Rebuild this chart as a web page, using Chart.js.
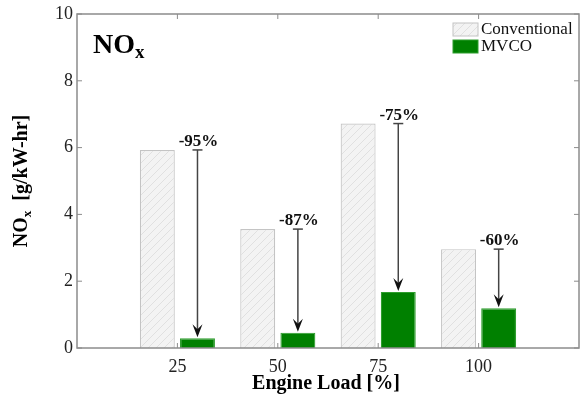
<!DOCTYPE html>
<html>
<head>
<meta charset="utf-8">
<script src="https://cdn.jsdelivr.net/npm/chart.js@4"></script>
<style>
  html, body { margin: 0; padding: 0; background: #fff; }
  #chart { display: block; }
</style>
</head>
<body>
<canvas id="chart" width="580" height="402"></canvas>
<script>
// --- Data ---
const loads = ['25', '50', '75', '100'];
const conventional = [5.93, 3.56, 6.72, 2.96];
const mvco = [0.29, 0.46, 1.68, 1.19];
const reductions = ['-95%', '-87%', '-75%', '-60%'];
const seriesNames = ['Conventional', 'MVCO'];
const yMin = 0, yMax = 10, yStep = 2;

const SERIF = '"Liberation Serif", "Times New Roman", serif';

// hatched fill for the conventional bars
function makeHatch() {
    const c = document.createElement('canvas');
    c.width = 8; c.height = 8;
    const g = c.getContext('2d');
    g.fillStyle = '#f3f3f3';
    g.fillRect(0, 0, 8, 8);
    g.strokeStyle = '#dadada';
    g.lineWidth = 0.8;
    g.beginPath();
    g.moveTo(0, 8); g.lineTo(8, 0);
    g.moveTo(-1, 1); g.lineTo(1, -1);
    g.moveTo(7, 9); g.lineTo(9, 7);
    g.stroke();
    return g.createPattern(c, 'repeat');
}
const hatch = makeHatch();

// pad the category axis with an empty slot on each side
const labels = [''].concat(loads, ['']);
const pad = arr => [null].concat(arr, [null]);

function line(ctx, x1, y1, x2, y2) {
    ctx.beginPath();
    ctx.moveTo(x1, y1);
    ctx.lineTo(x2, y2);
    ctx.stroke();
}

// frame, inward ticks, arrows, labels, legend and titles
const overlay = {
    id: 'overlay',
    afterDatasetsDraw(chart) {
        const { ctx, chartArea: a, scales: { x, y } } = chart;
        ctx.save();

        // frame
        ctx.strokeStyle = '#8c8c8c';
        ctx.lineWidth = 1.5;
        ctx.strokeRect(a.left, a.top, a.right - a.left, a.bottom - a.top);

        // inward tick marks
        ctx.lineWidth = 1;
        y.ticks.forEach(t => {
            const py = y.getPixelForValue(t.value);
            line(ctx, a.left, py, a.left + 5, py);
            line(ctx, a.right, py, a.right - 5, py);
        });
        for (let i = 1; i < labels.length - 1; i++) {
            const px = x.getPixelForTick(i);
            line(ctx, px, a.top, px, a.top + 5);
            line(ctx, px, a.bottom, px, a.bottom - 5);
        }

        // reduction arrows
        const meta = chart.getDatasetMeta(1);
        loads.forEach((l, i) => {
            const bx = meta.data[i + 1].x;
            const yTop = y.getPixelForValue(conventional[i]);
            const yTip = y.getPixelForValue(mvco[i]) - 1;
            ctx.strokeStyle = '#444';
            ctx.lineWidth = 1.5;
            line(ctx, bx - 5, yTop, bx + 5, yTop);
            line(ctx, bx, yTop, bx, yTip - 6);
            ctx.fillStyle = '#111';
            ctx.beginPath();
            ctx.moveTo(bx, yTip);
            ctx.lineTo(bx - 5, yTip - 13);
            ctx.lineTo(bx, yTip - 8);
            ctx.lineTo(bx + 5, yTip - 13);
            ctx.closePath();
            ctx.fill();

            ctx.font = 'bold 17px ' + SERIF;
            ctx.textAlign = 'center';
            ctx.textBaseline = 'alphabetic';
            ctx.fillText(reductions[i], bx + 1, yTop - 4);
        });

        // legend
        const boxes = [
            { fill: hatch, border: '#c4c4c4', y: 23 },
            { fill: '#008000', border: '#2e9e2e', y: 40 }
        ];
        ctx.font = '17px ' + SERIF;
        ctx.textAlign = 'left';
        ctx.textBaseline = 'middle';
        boxes.forEach((b, i) => {
            ctx.fillStyle = b.fill;
            ctx.fillRect(453, b.y, 25, 13);
            ctx.strokeStyle = b.border;
            ctx.lineWidth = 1;
            ctx.strokeRect(453, b.y, 25, 13);
            ctx.fillStyle = '#111';
            ctx.fillText(seriesNames[i], 481, b.y + 7);
        });

        // panel label NOx
        ctx.fillStyle = '#000';
        ctx.textBaseline = 'alphabetic';
        ctx.font = 'bold 28px ' + SERIF;
        ctx.fillText('NO', 93, 53);
        const wNO = ctx.measureText('NO').width;
        ctx.font = 'bold 19px ' + SERIF;
        ctx.fillText('x', 93 + wNO, 58);

        // x axis title
        ctx.font = 'bold 20px ' + SERIF;
        ctx.textAlign = 'center';
        ctx.textBaseline = 'middle';
        ctx.fillText('Engine Load [%]', 326, 384);

        // y axis title, rotated
        ctx.translate(27, (a.top + a.bottom) / 2);
        ctx.rotate(-Math.PI / 2);
        ctx.textAlign = 'left';
        ctx.textBaseline = 'alphabetic';
        ctx.font = 'bold 20px ' + SERIF;
        const w1 = ctx.measureText('NO').width;
        const w3 = ctx.measureText('  [g/kW-hr]').width;
        ctx.font = 'bold 13px ' + SERIF;
        const w2 = ctx.measureText('x').width;
        let tx = -(w1 + w2 + w3) / 2;
        ctx.font = 'bold 20px ' + SERIF;
        ctx.fillText('NO', tx, 0);
        ctx.font = 'bold 13px ' + SERIF;
        ctx.fillText('x', tx + w1, 4);
        ctx.font = 'bold 20px ' + SERIF;
        ctx.fillText('  [g/kW-hr]', tx + w1 + w2, 0);

        ctx.restore();
    }
};

new Chart(document.getElementById('chart'), {
    type: 'bar',
    data: {
        labels: labels,
        datasets: [
            {
                label: seriesNames[0],
                data: pad(conventional),
                backgroundColor: hatch,
                borderColor: '#c4c4c4',
                borderWidth: 1.2
            },
            {
                label: seriesNames[1],
                data: pad(mvco),
                backgroundColor: '#008000',
                borderColor: '#2e9e2e',
                borderWidth: 1.2
            }
        ]
    },
    options: {
        responsive: false,
        animation: false,
        devicePixelRatio: 1,
        categoryPercentage: 0.8,
        barPercentage: 0.87,
        layout: { padding: { left: 0, right: 1, top: 14, bottom: 0 } },
        plugins: {
            legend: { display: false },
            tooltip: { enabled: false }
        },
        scales: {
            x: {
                offset: false,
                grid: { display: false, drawTicks: false },
                border: { display: false },
                ticks: {
                    autoSkip: false,
                    maxRotation: 0,
                    padding: 8,
                    color: '#222',
                    font: { family: SERIF, size: 18 }
                },
                afterFit: s => {
                    s.height = 54;
                    s.paddingLeft = 0;
                    s.paddingRight = 0;
                }
            },
            y: {
                min: yMin,
                max: yMax,
                grid: { display: false, drawTicks: false },
                border: { display: false },
                ticks: {
                    stepSize: yStep,
                    padding: 4,
                    color: '#222',
                    font: { family: SERIF, size: 18 }
                },
                afterFit: s => {
                    s.width = 77;
                    s.paddingTop = 0;
                    s.paddingBottom = 0;
                }
            }
        }
    },
    plugins: [overlay]
});
</script>
</body>
</html>
